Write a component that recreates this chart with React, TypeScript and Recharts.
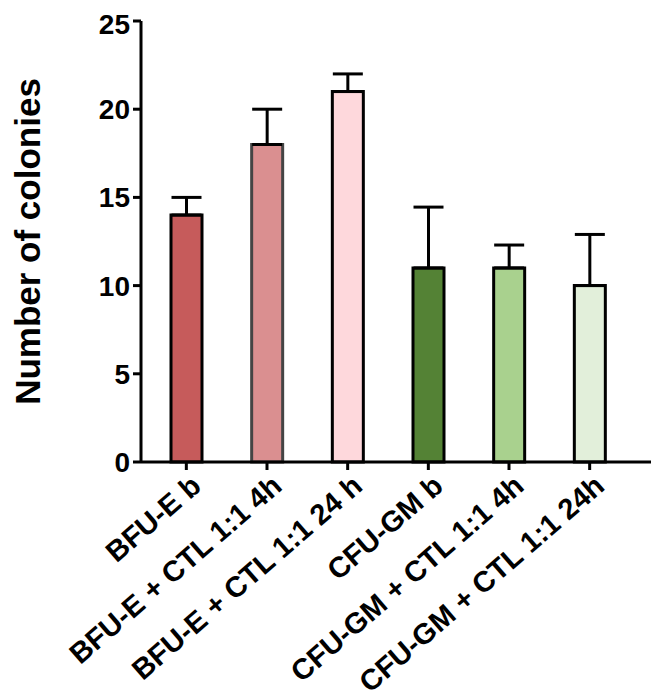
import React from 'react';
import { BarChart, Bar, XAxis, YAxis, Cell, ErrorBar } from 'recharts';

const categories = [
  'BFU-E b',
  'BFU-E + CTL 1:1 4h',
  'BFU-E + CTL 1:1 24 h',
  'CFU-GM b',
  'CFU-GM + CTL 1:1 4h',
  'CFU-GM + CTL 1:1 24h',
];
const means = [14, 18, 21, 11, 11, 10];
const errors = [1, 2, 1, 3.45, 1.3, 2.9];
const yTicks = [0, 5, 10, 15, 20, 25];

const fills = ['#c65b5b', '#da8f90', '#fed8dc', '#548235', '#a9d18e', '#e2efda'];
const strokes = ['#000', '#444', '#000', '#000', '#000', '#000'];

const data = categories.map((name, i) => ({
  name,
  value: means[i],
  err: [0, errors[i]],
}));

const FONT = '"Liberation Sans", Arial, sans-serif';

const AngledTick = (props: any) => {
  const { x, y, payload } = props;
  const ax = x + 10;
  const ay = y + 9;
  return (
    <text
      x={ax}
      y={ay}
      transform={`rotate(-41, ${ax}, ${ay})`}
      textAnchor="end"
      dominantBaseline="central"
      fontFamily={FONT}
      fontWeight="bold"
      fontSize={29}
      fill="#000"
    >
      {payload.value}
    </text>
  );
};

export default function App() {
  return (
    <div style={{ width: 651, height: 690 }}>
      <BarChart
        width={651}
        height={690}
        data={data}
        margin={{ top: 13, right: 0, left: 0, bottom: 0 }}
      >
        <XAxis
          dataKey="name"
          interval={0}
          height={236}
          padding={{ left: 5, right: 29 }}
          tickSize={8}
          axisLine={{ stroke: '#000', strokeWidth: 3 }}
          tickLine={{ stroke: '#000', strokeWidth: 3 }}
          tick={<AngledTick />}
        />
        <YAxis
          width={133}
          domain={[0, 25]}
          ticks={yTicks}
          tickSize={8}
          tickMargin={3}
          axisLine={{ stroke: '#000', strokeWidth: 3 }}
          tickLine={{ stroke: '#000', strokeWidth: 3 }}
          tick={{ fontSize: 28, fontWeight: 'bold', fill: '#000', fontFamily: FONT }}
          label={{
            value: 'Number of colonies',
            angle: -90,
            position: 'center',
            dx: -47,
            style: { fontSize: 35, fontWeight: 'bold', fill: '#000', fontFamily: FONT },
          }}
        />
        <Bar dataKey="value" barSize={31} strokeWidth={3} isAnimationActive={false}>
          {data.map((d, i) => (
            <Cell key={d.name} fill={fills[i]} stroke={strokes[i]} />
          ))}
          <ErrorBar dataKey="err" width={15} stroke="#000" strokeWidth={3} isAnimationActive={false} />
        </Bar>
      </BarChart>
    </div>
  );
}
